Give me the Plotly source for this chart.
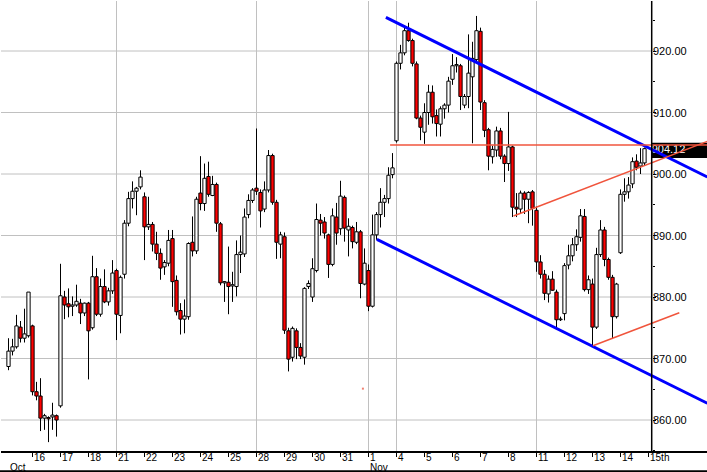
import plotly.graph_objects as go

# ---------------- data: hourly candles, 15 Oct - 14 Nov ----------------
opens = [868.7, 871.2, 871.9, 875.1, 873.3, 873.7,
         875.3, 864.6, 863.9, 860.3, 860.4, 860.5, 860.7,
         862.3, 880.0, 878.9, 878.5, 878.7, 879.0, 877.4,
         879.0, 875.0, 883.3, 877.2, 881.7, 879.2, 881.0,
         884.3, 877.0, 883.7, 892.0, 896.0, 897.2, 897.9,
         896.3, 891.4, 891.8, 888.6, 887.1, 884.9, 885.5,
         889.5, 882.7, 877.8, 876.4, 876.8, 888.9, 887.5,
         896.9, 895.2, 899.6, 896.5, 898.3, 891.9, 882.3,
         882.4, 881.8, 881.7, 886.9, 887.0, 893.4, 895.7,
         897.7, 897.0, 894.3, 897.4, 903.0, 895.4, 888.6,
         889.8, 874.5, 870.2, 874.5, 871.8, 870.2, 881.7,
         880.0, 884.3, 892.5, 892.2, 890.1, 885.3, 893.0,
         891.1, 896.2, 890.9, 891.3, 888.9, 890.6, 882.1,
         884.3, 878.5, 890.1, 893.4, 895.4, 896.0, 899.9,
         905.4, 918.0, 919.7, 923.3, 921.7, 917.9, 909.1,
         906.8, 910.0, 913.3, 909.5, 908.1, 910.6, 911.2,
         915.4, 917.6, 917.6, 911.2, 912.6, 915.8, 918.6,
         923.2, 911.6, 907.2, 902.8, 903.9, 907.0, 902.9,
         901.7, 904.4, 894.6, 894.3, 896.9, 895.9, 897.1,
         894.1, 885.7, 883.7, 880.5, 882.9, 880.8, 876.3,
         877.3, 885.2, 886.7, 888.5, 889.7, 893.1, 881.2,
         882.1, 875.1, 886.9, 890.9, 886.1, 883.2, 876.8,
         887.2, 896.7, 897.1, 898.4, 902.1, 901.3, 901.8]
highs = [873.3, 873.2, 877.1, 876.1, 878.1, 880.8,
         875.5, 866.2, 866.8, 861.0, 860.6, 862.8, 860.9,
         885.4, 881.0, 881.4, 880.1, 882.0, 879.7, 879.1,
         879.2, 886.7, 884.7, 883.0, 884.5, 881.5, 886.0,
         884.6, 883.5, 892.5, 897.1, 898.8, 897.9, 900.6,
         897.0, 896.3, 892.2, 890.6, 887.9, 886.0, 890.9,
         890.9, 883.5, 879.0, 879.6, 888.9, 893.1, 896.3,
         902.9, 901.7, 902.0, 899.7, 898.6, 892.2, 882.6,
         888.2, 884.1, 889.2, 890.0, 894.4, 896.7, 897.7,
         907.4, 897.5, 898.8, 903.9, 903.3, 895.8, 890.6,
         890.5, 875.0, 875.2, 874.9, 872.5, 881.6, 882.7,
         886.3, 895.2, 893.5, 893.0, 890.3, 894.4, 895.3,
         898.9, 896.5, 892.8, 891.6, 892.2, 890.9, 887.9,
         885.3, 893.4, 893.8, 897.7, 896.6, 901.1, 903.4,
         918.3, 921.0, 924.2, 924.6, 922.0, 918.3, 909.5,
         911.5, 914.5, 914.4, 910.5, 911.0, 911.5, 915.8,
         919.5, 919.0, 917.9, 913.0, 922.7, 921.5, 925.7,
         923.8, 912.0, 907.5, 904.6, 907.7, 907.5, 903.2,
         910.1, 904.6, 896.9, 897.3, 897.2, 897.2, 897.4,
         894.7, 886.8, 884.4, 883.5, 884.2, 881.2, 876.8,
         885.5, 888.5, 889.6, 891.0, 894.3, 894.3, 883.5,
         883.0, 888.0, 892.5, 891.4, 886.4, 883.6, 882.3,
         897.5, 899.3, 899.5, 902.7, 903.2, 904.2, 904.3]
lows = [868.1, 870.5, 871.6, 872.6, 872.6, 873.4,
        864.0, 863.2, 858.2, 858.4, 856.4, 858.4, 857.3,
        862.0, 876.4, 876.7, 876.9, 878.4, 875.6, 876.9,
        866.6, 874.7, 876.9, 876.8, 879.0, 878.6, 880.5,
        873.0, 874.1, 883.0, 891.5, 894.4, 893.3, 897.5,
        886.0, 890.9, 887.4, 886.0, 882.8, 883.6, 885.0,
        878.4, 877.0, 873.9, 874.1, 876.3, 886.6, 887.0,
        894.1, 894.0, 896.3, 896.4, 890.6, 881.9, 879.2,
        877.2, 879.2, 880.1, 883.9, 886.5, 892.8, 895.3,
        896.6, 891.3, 893.8, 897.0, 895.0, 886.2, 886.3,
        874.0, 867.9, 869.5, 869.9, 869.9, 869.0, 881.3,
        879.2, 884.0, 890.0, 889.5, 883.1, 885.0, 888.5,
        890.1, 889.0, 886.6, 887.9, 888.6, 879.8, 881.9,
        877.7, 878.3, 889.3, 891.3, 893.0, 895.2, 899.3,
        905.1, 917.0, 919.3, 921.5, 917.5, 908.9, 905.5,
        904.9, 908.0, 908.2, 906.1, 906.1, 909.0, 910.0,
        914.5, 916.5, 910.4, 910.7, 910.7, 905.0, 918.0,
        910.4, 906.0, 900.6, 901.7, 902.8, 902.4, 898.7,
        900.5, 893.0, 893.0, 893.5, 893.5, 892.0, 891.6,
        884.1, 883.0, 879.5, 879.1, 881.0, 874.7, 876.1,
        876.2, 884.5, 885.8, 887.5, 889.0, 880.9, 880.5,
        872.0, 874.8, 886.5, 885.0, 882.8, 873.3, 876.5,
        887.0, 895.5, 896.0, 897.7, 900.6, 900.0, 901.4]
closes = [871.2, 871.9, 875.3, 873.3, 874.0, 880.8,
          864.6, 863.9, 860.3, 860.7, 860.2, 860.8, 860.0,
          880.2, 878.7, 878.4, 878.7, 879.3, 877.4, 879.0,
          874.5, 883.3, 877.2, 881.7, 879.2, 881.0, 883.9,
          877.2, 883.2, 892.0, 896.0, 897.2, 897.7, 899.5,
          891.4, 891.8, 888.6, 887.1, 884.7, 885.6, 889.2,
          882.5, 877.6, 876.4, 876.9, 888.7, 887.5, 895.9,
          895.2, 899.3, 896.7, 898.3, 892.0, 882.3, 882.5,
          881.7, 882.0, 886.9, 887.3, 893.0, 895.7, 897.4,
          897.2, 894.0, 897.4, 903.0, 895.4, 888.9, 890.1,
          874.6, 869.9, 874.9, 871.8, 870.4, 881.4, 882.2,
          884.6, 892.6, 892.0, 890.4, 885.3, 893.2, 890.4,
          896.4, 891.2, 891.5, 889.0, 890.6, 882.2, 885.5,
          878.5, 890.1, 893.4, 895.4, 896.0, 899.8, 901.0,
          918.0, 919.7, 923.3, 921.7, 918.0, 909.1, 907.6,
          910.0, 913.3, 909.3, 908.2, 910.6, 911.2, 915.1,
          917.6, 917.8, 912.6, 912.6, 916.4, 918.8, 923.3,
          911.7, 907.1, 902.9, 904.0, 907.0, 902.9, 901.7,
          904.4, 894.6, 894.3, 896.9, 895.9, 897.0, 894.4,
          885.7, 883.7, 880.6, 882.9, 881.1, 876.3, 876.4,
          885.1, 886.7, 888.5, 889.8, 893.2, 881.2, 882.8,
          875.1, 886.9, 890.9, 886.1, 883.2, 876.8, 882.1,
          896.7, 897.1, 898.2, 902.0, 901.1, 901.8, 904.12]
bars = list(range(len(opens)))

day_ticks = [6, 13, 20, 27, 34, 41, 48, 55, 62, 69, 76, 83, 90, 97, 104,
             111, 118, 125, 132, 139, 146, 153, 160]
day_labels = ['16', '17', '18', '21', '22', '23', '24', '25', '28', '29', '30',
              '31', '1', '4', '5', '6', '7', '8', '11', '12', '13', '14', '15th']
month_ticks = [0, 90]
month_labels = ['Oct', 'Nov']
week_grid = [27, 62, 90, 97, 132]
price_grid = [860, 870, 880, 890, 900, 910, 920]
price_minor = [855, 865, 875, 885, 895, 905, 915, 925]
last_price = 904.12

# drawn trend lines (bar index, price)
upper_channel_x, upper_channel_y = [94.35, 174.7], [925.48, 899.51]
lower_channel_x, lower_channel_y = [92.1, 174.7], [889.38, 862.72]
resist_x, resist_y = [95.4, 174.7], [904.7, 904.7]
rise_hi_x, rise_hi_y = [126.25, 174.7], [893.17, 905.3]
rise_lo_x, rise_lo_y = [146.1, 167.7], [872.08, 877.45]
dot_x, dot_y = [88.6], [865.1]

# ---------------- layout constants ----------------
X_RANGE = [-1.875, 174.625]
Y_RANGE = [854.96, 928.13]
AXIS_X = 160.8             # bar-index position of the price axis
AXIS_PAPER = (AXIS_X - X_RANGE[0]) / (X_RANGE[1] - X_RANGE[0])
FONT = 'Liberation Sans, Arial, sans-serif'
GRID = '#c0c0c0'
RED_LINE = '#f0543c'

# candle bodies and wicks, built from the OHLC lists
body_base = [min(o, c) for o, c in zip(opens, closes)]
body_top = [max(o, c) for o, c in zip(opens, closes)]
body_height = [max(t - b, 0.12) for b, t in zip(body_base, body_top)]
body_color = ['white' if c >= o else '#ff0000' for o, c in zip(opens, closes)]
wick_x, wick_y = [], []
for i, lo, hi, b, t in zip(bars, lows, highs, body_base, body_top):
    # lower shadow and upper shadow, not crossing the body
    wick_x += [i, i, None, i, i, None]
    wick_y += [lo, b, None, t, hi, None]

fig = go.Figure()
fig.add_trace(go.Bar(x=bars, y=body_height, base=body_base, width=0.82,
                     marker=dict(color=body_color, line=dict(color='black', width=1)),
                     hoverinfo='skip', showlegend=False))
fig.add_trace(go.Scatter(x=wick_x, y=wick_y, mode='lines',
                         line=dict(color='black', width=1),
                         hoverinfo='skip', showlegend=False))

# last-price text (drawn under the trend lines)
fig.add_trace(go.Scatter(x=[AXIS_X], y=[last_price - 0.3], mode='text',
                         text=['%.2f' % last_price], textposition='middle right',
                         textfont=dict(color='white', size=11, family=FONT),
                         cliponaxis=False, hoverinfo='skip', showlegend=False))

for lx, ly, col, w in [(upper_channel_x, upper_channel_y, '#0000ff', 3),
                       (lower_channel_x, lower_channel_y, '#0000ff', 3),
                       (resist_x, resist_y, RED_LINE, 1.5),
                       (rise_hi_x, rise_hi_y, RED_LINE, 1.5),
                       (rise_lo_x, rise_lo_y, RED_LINE, 1.5)]:
    fig.add_trace(go.Scatter(x=lx, y=ly, mode='lines', line=dict(color=col, width=w),
                             hoverinfo='skip', showlegend=False, cliponaxis=False))
fig.add_trace(go.Scatter(x=dot_x, y=dot_y, mode='markers',
                         marker=dict(color='#f08070', size=2, symbol='square'),
                         hoverinfo='skip', showlegend=False))

shapes = []
for p in price_grid:
    shapes.append(dict(type='line', xref='x', yref='y', x0=X_RANGE[0], x1=AXIS_X,
                       y0=p, y1=p, line=dict(color=GRID, width=1), layer='below'))
for g in week_grid:
    shapes.append(dict(type='line', xref='x', yref='paper', x0=g, x1=g, y0=0, y1=1,
                       line=dict(color=GRID, width=1), layer='below'))
# last price box
shapes.append(dict(type='rect', xref='paper', yref='y', x0=AXIS_PAPER, x1=1.01,
                   y0=last_price - 1.5, y1=last_price + 0.95,
                   fillcolor='black', line=dict(width=0), layer='between'))
# price axis line
shapes.append(dict(type='line', xref='paper', yref='paper', x0=AXIS_PAPER, x1=AXIS_PAPER,
                   y0=0, y1=1, line=dict(color='black', width=1.5)))
# outer frame bottom
shapes.append(dict(type='line', xref='paper', yref='paper', x0=-0.01, x1=1.01,
                   y0=-20.3 / 450, y1=-20.3 / 450, line=dict(color='black', width=2)))

annotations = []
for t, lab in zip(day_ticks, day_labels):
    annotations.append(dict(x=t, y=-6.6 / 450, xref='x', yref='paper', text=lab,
                            showarrow=False, xanchor='left', yanchor='middle', xshift=-1,
                            font=dict(size=10, family=FONT, color='black')))
for t, lab in zip(month_ticks, month_labels):
    annotations.append(dict(x=t, y=-16.0 / 450, xref='x', yref='paper', text=lab,
                            showarrow=False, xanchor='left', yanchor='middle', xshift=-1,
                            font=dict(size=10, family=FONT, color='black')))
for p in price_grid:
    annotations.append(dict(x=AXIS_PAPER, y=p, xref='paper', yref='y', text='%.2f' % p,
                            showarrow=False, xanchor='left', yanchor='middle', xshift=-1,
                            font=dict(size=11, family=FONT, color='black')))

fig.update_layout(
    width=707, height=472,
    margin=dict(l=1, r=0, t=1, b=21),
    paper_bgcolor='white', plot_bgcolor='white',
    showlegend=False,
    shapes=shapes, annotations=annotations,
    xaxis=dict(range=X_RANGE, showgrid=False, zeroline=False,
               showline=True, linecolor='black', linewidth=1.5,
               tickmode='array', tickvals=day_ticks, ticks='outside', ticklen=4,
               tickcolor='black', showticklabels=False, fixedrange=True),
    xaxis2=dict(range=X_RANGE, overlaying='x', side='top', anchor='y',
                showgrid=False, zeroline=False, showline=True, linecolor='black',
                linewidth=2, tickmode='array', tickvals=day_ticks, ticks='inside',
                ticklen=3, tickcolor='black', showticklabels=False),
    yaxis=dict(range=Y_RANGE, side='right', anchor='free', position=AXIS_PAPER,
               showgrid=False, zeroline=False, showline=False,
               tickmode='array', tickvals=price_grid, ticks='outside', ticklen=3,
               tickcolor='black', showticklabels=False, fixedrange=True,
               minor=dict(tickmode='array', tickvals=price_minor, ticks='outside',
                          ticklen=2, tickcolor='black')),
    yaxis2=dict(range=Y_RANGE, overlaying='y', side='left', anchor='x',
                showgrid=False, zeroline=False, showline=True, linecolor='black',
                linewidth=2, tickmode='array', tickvals=price_minor, ticks='inside',
                ticklen=3, tickcolor='black', showticklabels=False),
)

fig.write_html('out.html', config={'displayModeBar': False},
               post_script="document.body.style.margin='0';document.body.style.padding='0';")
